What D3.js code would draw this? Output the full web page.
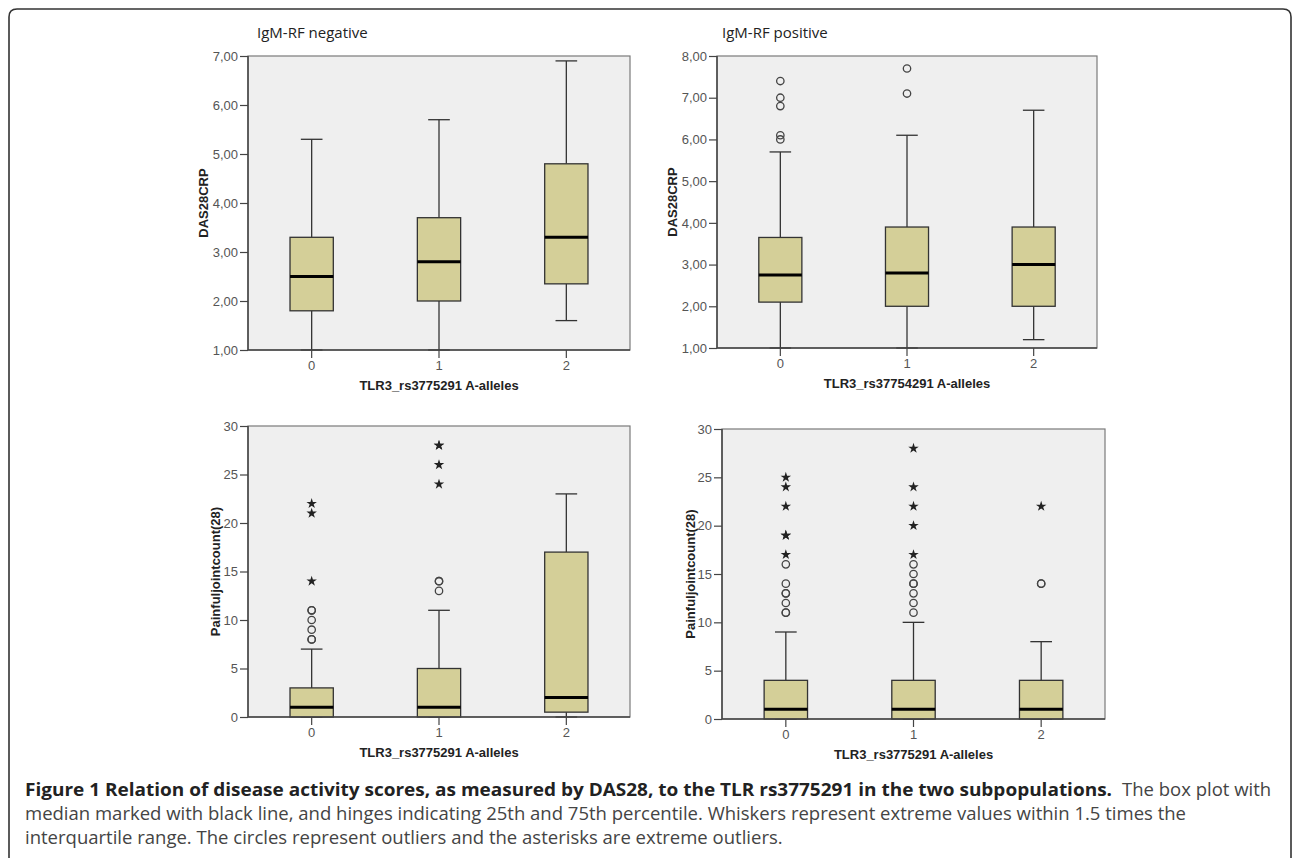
<!DOCTYPE html>
<html>
<head>
<meta charset="utf-8">
<script src="https://cdn.jsdelivr.net/npm/d3@7"></script>
<style>
  html, body { margin: 0; padding: 0; background: #fff; }
  svg { display: block; }
</style>
</head>
<body>
<svg id="chart" width="1292" height="858"></svg>
<script>
// ---------------- DATA ----------------
const categories = ["0", "1", "2"];

// box stats per category: [whiskerLow, Q1, median, Q3, whiskerHigh]
const dasNegBoxes = [[1.0, 1.8, 2.5, 3.3, 5.3], [1.0, 2.0, 2.8, 3.7, 5.7], [1.6, 2.35, 3.3, 4.8, 6.9]];
const dasNegOutliers = [[], [], []];
const dasNegExtremes = [[], [], []];

const dasPosBoxes = [[1.0, 2.1, 2.75, 3.65, 5.7], [1.0, 2.0, 2.8, 3.9, 6.1], [1.2, 2.0, 3.0, 3.9, 6.7]];
const dasPosOutliers = [[7.4, 7.0, 6.8, 6.1, 6.0], [7.7, 7.1], []];
const dasPosExtremes = [[], [], []];

const pjcNegBoxes = [[0, 0, 1, 3, 7], [0, 0, 1, 5, 11], [0, 0.5, 2, 17, 23]];
const pjcNegOutliers = [[11, 11, 10, 9, 8, 8], [14, 14, 13], []];
const pjcNegExtremes = [[22, 21, 14], [28, 28, 26, 24], []];

const pjcPosBoxes = [[0, 0, 1, 4, 9], [0, 0, 1, 4, 10], [0, 0, 1, 4, 8]];
const pjcPosOutliers = [[16, 14, 13, 13, 12, 11, 11], [16, 15, 14, 14, 13, 12, 11], [14, 14]];
const pjcPosExtremes = [[25, 24, 22, 19, 19, 17], [28, 24, 22, 20, 17], [22]];

const dasTicks = [1, 2, 3, 4, 5, 6, 7];
const dasPosTicks = [1, 2, 3, 4, 5, 6, 7, 8];
const pjcTicks = [0, 5, 10, 15, 20, 25, 30];

const panelTitles = ["IgM-RF negative", "IgM-RF positive", "", ""];
const xTitles = ["TLR3_rs3775291 A-alleles", "TLR3_rs37754291 A-alleles", "TLR3_rs3775291 A-alleles", "TLR3_rs3775291 A-alleles"];
const yTitles = ["DAS28CRP", "DAS28CRP", "Painfuljointcount(28)", "Painfuljointcount(28)"];

const captionBold = "Figure 1 Relation of disease activity scores, as measured by DAS28, to the TLR rs3775291 in the two subpopulations.";
const captionLines = [
  "The box plot with",
  "median marked with black line, and hinges indicating 25th and 75th percentile. Whiskers represent extreme values within 1.5 times the",
  "interquartile range. The circles represent outliers and the asterisks are extreme outliers."
];

// ---------------- LAYOUT ----------------
const panels = [
  { boxes: dasNegBoxes, outl: dasNegOutliers, ext: dasNegExtremes, ticks: dasTicks, dom: [1, 7], dec: true,
    left: 248, right: 630, top: 56, bottom: 350, ylabX: 203, titleX: 257 },
  { boxes: dasPosBoxes, outl: dasPosOutliers, ext: dasPosExtremes, ticks: dasPosTicks, dom: [1, 8], dec: true,
    left: 717, right: 1097, top: 56, bottom: 348, ylabX: 672, titleX: 722 },
  { boxes: pjcNegBoxes, outl: pjcNegOutliers, ext: pjcNegExtremes, ticks: pjcTicks, dom: [0, 30], dec: false,
    left: 248, right: 630, top: 426, bottom: 717, ylabX: 215, titleX: 0 },
  { boxes: pjcPosBoxes, outl: pjcPosOutliers, ext: pjcPosExtremes, ticks: pjcTicks, dom: [0, 30], dec: false,
    left: 722, right: 1105, top: 429, bottom: 719, ylabX: 690, titleX: 0 }
];

const svg = d3.select("#chart");

// outer frame with rounded top corners
svg.append("path")
  .attr("d", "M9,862 V17 Q9,9 17,9 H1283 Q1291,9 1291,17 V862")
  .attr("fill", "none").attr("stroke", "#333").attr("stroke-width", 1.6);

const boxFill = "#d4cf98";
const tickFont = "'Liberation Sans', Arial, sans-serif";

panels.forEach((p, i) => {
  const g = svg.append("g");
  const x = d3.scaleBand().domain(categories).range([p.left, p.right]).padding(0);
  const y = d3.scaleLinear().domain(p.dom).range([p.bottom, p.top]);
  const bw = x.bandwidth() * 0.34;
  const cx = c => x(c) + x.bandwidth() / 2;

  // plot background
  g.append("rect")
    .attr("x", p.left).attr("y", p.top)
    .attr("width", p.right - p.left).attr("height", p.bottom - p.top)
    .attr("fill", "#efefef").attr("stroke", "#7a7a7a").attr("stroke-width", 1.2);

  // boxes
  categories.forEach((c, k) => {
    const [lo, q1, med, q3, hi] = p.boxes[k];
    const xc = cx(c);
    const bg = g.append("g");
    bg.append("line").attr("x1", xc).attr("x2", xc).attr("y1", y(q3)).attr("y2", y(hi))
      .attr("stroke", "#333").attr("stroke-width", 1.3);
    bg.append("line").attr("x1", xc).attr("x2", xc).attr("y1", y(q1)).attr("y2", y(lo))
      .attr("stroke", "#333").attr("stroke-width", 1.3);
    [hi, lo].forEach(v => {
      bg.append("line").attr("x1", xc - bw / 4).attr("x2", xc + bw / 4).attr("y1", y(v)).attr("y2", y(v))
        .attr("stroke", "#333").attr("stroke-width", 1.3);
    });
    bg.append("rect").attr("x", xc - bw / 2).attr("y", y(q3)).attr("width", bw).attr("height", y(q1) - y(q3))
      .attr("fill", boxFill).attr("stroke", "#333").attr("stroke-width", 1.3);
    bg.append("line").attr("x1", xc - bw / 2).attr("x2", xc + bw / 2).attr("y1", y(med)).attr("y2", y(med))
      .attr("stroke", "#000").attr("stroke-width", 3);

    // outliers (circles)
    bg.selectAll("circle.o").data(p.outl[k]).join("circle")
      .attr("cx", xc).attr("cy", v => y(v)).attr("r", 3.7)
      .attr("fill", "none").attr("stroke", "#444").attr("stroke-width", 1.3);
    // extreme outliers (stars)
    bg.selectAll("path.s").data(p.ext[k]).join("path")
      .attr("d", d3.symbol(d3.symbolStar, 34))
      .attr("transform", v => `translate(${xc},${y(v)})`)
      .attr("fill", "#222");
  });

  // axes
  const fmt = p.dec ? (d => d.toFixed(2).replace(".", ",")) : (d => String(d));
  const ya = g.append("g").attr("transform", `translate(${p.left},0)`)
    .call(d3.axisLeft(y).tickValues(p.ticks).tickFormat(fmt).tickSize(8).tickPadding(2));
  const xa = g.append("g").attr("transform", `translate(0,${p.bottom})`)
    .call(d3.axisBottom(x).tickSize(8).tickPadding(3));
  [ya, xa].forEach(a => {
    a.select(".domain").remove();
    a.selectAll(".tick line").attr("stroke", "#444").attr("stroke-width", 1.2);
    a.selectAll(".tick text").attr("font-family", tickFont).attr("font-size", 13).attr("fill", "#555");
  });
  g.append("line").attr("x1", p.left).attr("x2", p.left).attr("y1", p.top).attr("y2", p.bottom)
    .attr("stroke", "#444").attr("stroke-width", 1.5);
  g.append("line").attr("x1", p.left).attr("x2", p.right).attr("y1", p.bottom).attr("y2", p.bottom)
    .attr("stroke", "#444").attr("stroke-width", 1.5);

  // axis titles
  g.append("text").attr("x", (p.left + p.right) / 2).attr("y", p.bottom + 40)
    .attr("text-anchor", "middle").attr("font-family", tickFont).attr("font-weight", "bold")
    .attr("font-size", 13).attr("fill", "#222").text(xTitles[i]);
  g.append("text")
    .attr("transform", `translate(${p.ylabX},${(p.top + p.bottom) / 2}) rotate(-90)`)
    .attr("dy", "0.35em")
    .attr("text-anchor", "middle").attr("font-family", tickFont).attr("font-weight", "bold")
    .attr("font-size", 13).attr("fill", "#222").text(yTitles[i]);

  if (panelTitles[i]) {
    g.append("text").attr("x", p.titleX).attr("y", 38)
      .attr("font-family", "'Open Sans', sans-serif").attr("font-size", 15)
      .attr("fill", "#222").text(panelTitles[i]);
  }
});

// caption: runs squeezed horizontally to the widths they occupy in the figure
const capFont = "'Open Sans', sans-serif";
const capFs = 17.5;
const cap = svg.append("g");
function capText(txt, x, y, bold) {
  return cap.append("text").attr("x", x).attr("y", y)
    .attr("font-family", capFont).attr("font-size", capFs)
    .attr("font-weight", bold ? "bold" : "normal")
    .attr("fill", bold ? "#222" : "#444")
    .attr("lengthAdjust", "spacingAndGlyphs")
    .text(txt);
}
const tBold = capText(captionBold, 25, 796, true);
const tR0 = capText(captionLines[0], 1122, 796, false);
const tR1 = capText(captionLines[1], 25, 820, false);
const tR2 = capText(captionLines[2], 25, 844, false);
const boldW = tBold.node().getComputedTextLength();
tBold.attr("textLength", 1087);
const regFactor = 1161 / tR1.node().getComputedTextLength();
[tR0, tR1, tR2].forEach(t => {
  const w = t.node().getComputedTextLength();
  t.attr("textLength", w * regFactor);
});
</script>
</body>
</html>
